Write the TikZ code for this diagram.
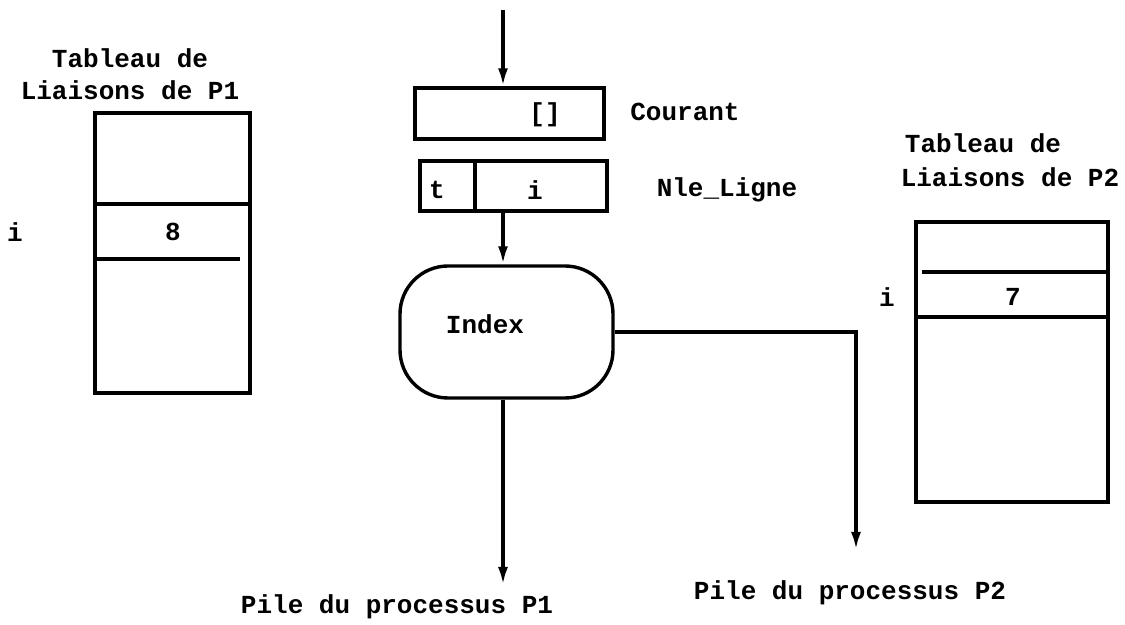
\documentclass[tikz,border=0pt]{standalone}
\usepackage{fontspec}
\setmainfont{Liberation Mono}
\usetikzlibrary{arrows.meta}
\begin{document}
\begin{tikzpicture}[x=0.5pt,y=-0.5pt,
  line width=1.7pt,
  box/.style={draw, rectangle, inner sep=0pt},
  txt/.style={font=\bfseries\fontsize{13}{15}\selectfont, inner sep=0pt},
  arr/.style={-{Latex[length=9pt,width=5pt]}}]
\useasboundingbox (0,0) rectangle (1125,625);
% left table
\node[box, minimum width=77.5pt, minimum height=140pt] (ltab) at (172.5,253) {};
\draw (ltab.west |- 0,204) -- (ltab.east |- 0,204);
\draw (ltab.west |- 0,259) -- (240,259);
\node[txt] (l8) at (173,232) {8};
\node[txt] (li) at (15,232) {i};
\node[txt] (lt1) at (130,58) {Tableau de};
\node[txt] (lt2) at (130,90) {Liaisons de P1};
% courant
\node[box, minimum width=94.5pt, minimum height=25.5pt] (cour) at (509.5,113.5) {};
\node[txt] (cb) at (545,115) {[]};
\node[txt] (ct) at (685,112) {Courant};
% nle ligne
\node[box, minimum width=93.5pt, minimum height=25pt] (nle) at (513.5,186) {};
\draw (475,0 |- nle.north) -- (475,0 |- nle.south);
\node[txt] (nt) at (437,190) {t};
\node[txt] (ni) at (535,190) {i};
\node[txt] (nl) at (727,190) {Nle\_Ligne};
% index
\node[draw, rectangle, rounded corners=24pt, minimum width=106.5pt, minimum height=66pt] (idx) at (506.5,332) {};
\node[txt] (it) at (485,324) {Index};
% right table
\node[box, minimum width=96pt, minimum height=140pt] (rtab) at (1012,362) {};
\draw (922,272) -- (rtab.east |- 0,272);
\draw (rtab.west |- 0,317) -- (rtab.east |- 0,317);
\node[txt] (r7) at (1013,297) {7};
\node[txt] (ri) at (887,297) {i};
\node[txt] (rt1) at (983,143) {Tableau de};
\node[txt] (rt2) at (1010,177) {Liaisons de P2};
% bottom labels
\node[txt] (p1) at (397,607) {Pile du processus P1};
\node[txt] (p2) at (850,593) {Pile du processus P2};
% connectors
\coordinate (top) at (503,10);
\coordinate (p1end) at (503,585);
\coordinate (p2end) at (856,550);
\draw[arr] (top) -- (top |- cour.north);
\draw[arr] (top |- nle.south) -- (top |- idx.north);
\draw[arr] (top |- idx.south) -- (p1end);
\draw[arr] (idx.east) -| (p2end);
\end{tikzpicture}
\end{document}
